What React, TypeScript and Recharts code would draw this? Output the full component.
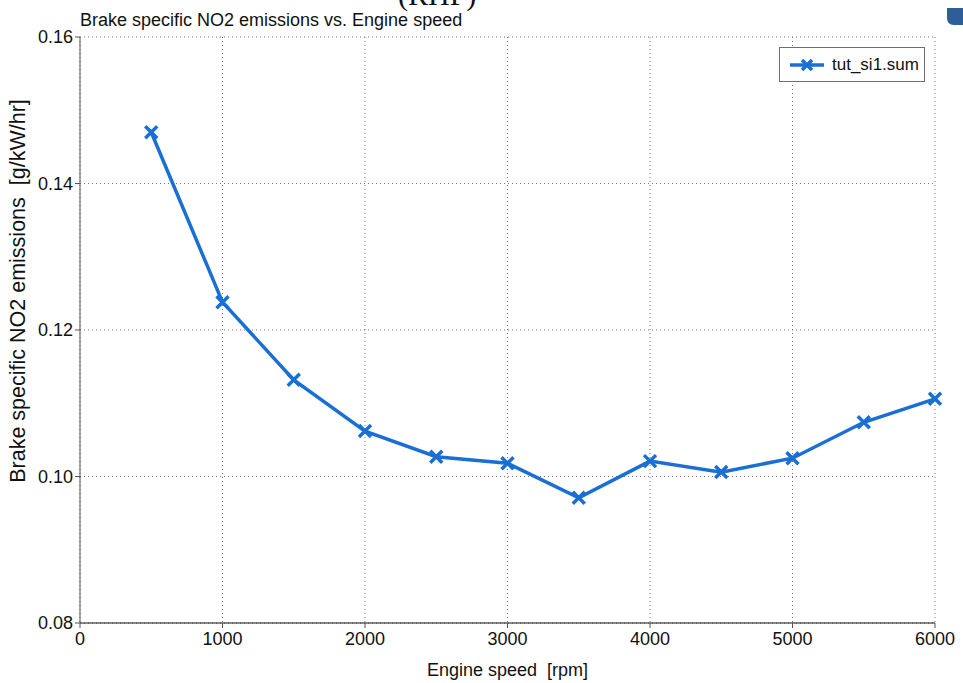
import React from 'react';
import {
  LineChart,
  Line,
  XAxis,
  YAxis,
  CartesianGrid,
} from 'recharts';

// Engine speed sweep [rpm] and brake specific NO2 [g/kW/hr]
const engineSpeed = [500, 1000, 1500, 2000, 2500, 3000, 3500, 4000, 4500, 5000, 5500, 6000];
const no2Emissions = [0.147, 0.1238, 0.1132, 0.1062, 0.1027, 0.1018, 0.0971, 0.1021, 0.1006, 0.1025, 0.1074, 0.1106];
const speedTicks = [0, 1000, 2000, 3000, 4000, 5000, 6000];
const emissionTicks = [0.08, 0.1, 0.12, 0.14, 0.16];
const seriesName = 'tut_si1.sum';

const BLUE = '#1a6fd4';
const FONT = '"Liberation Sans", Arial, Helvetica, sans-serif';

const data = engineSpeed.map((rpm, i) => ({ rpm, value: no2Emissions[i] }));

const CrossDot = (props: any) => {
  const { cx, cy, index } = props;
  if (cx == null || cy == null) return null;
  const s = 6;
  return (
    <path
      key={`x-${index}`}
      d={`M${cx - s},${cy - s}L${cx + s},${cy + s}M${cx - s},${cy + s}L${cx + s},${cy - s}`}
      stroke={BLUE}
      strokeWidth={3.5}
      fill="none"
    />
  );
};

// legend box sits over the plot, top right
const LegendBox = () => (
  <div
    style={{
      position: 'absolute',
      left: 779,
      top: 47,
      width: 146,
      height: 35,
      boxSizing: 'border-box',
      border: '1px solid #6e6e6e',
      background: '#fff',
      display: 'flex',
      alignItems: 'center',
      fontFamily: FONT,
      fontSize: 17,
      color: '#111',
    }}
  >
    <svg width={50} height={20} style={{ marginLeft: 8 }}>
      <line x1={2} y1={10} x2={36} y2={10} stroke={BLUE} strokeWidth={3.5} />
      <path d="M14,5L24,15M14,15L24,5" stroke={BLUE} strokeWidth={3.5} />
    </svg>
    <span style={{ marginLeft: -6 }}>{seriesName}</span>
  </div>
);

export default function App() {
  return (
    <div style={{ position: 'absolute', left: 0, top: 0, width: 963, height: 683, background: '#fff' }}>
      <svg width={963} height={40} style={{ position: 'absolute', left: 0, top: 0 }}>
        <text x={398} y={5} fontFamily="Liberation Serif, serif" fontSize={30} fill="#111">
          (RHP)
        </text>
        <path d="M947,8H963V25H954Q947,25 947,18Z" fill="#2f5d98" />
        <text x={80} y={26} fontFamily={FONT} fontSize={18} fill="#111">
          Brake specific NO2 emissions vs. Engine speed
        </text>
      </svg>
      <LineChart
        width={963}
        height={683}
        data={data}
        margin={{ top: 37, right: 28, left: 0, bottom: 0 }}
        style={{ fontFamily: FONT }}
      >
        <CartesianGrid stroke="#777" strokeDasharray="1 3" />
        <XAxis
          dataKey="rpm"
          type="number"
          domain={[0, 6000]}
          ticks={speedTicks}
          height={60}
          tickSize={5}
          tick={{ fontSize: 18, fill: '#111', dy: 2 }}
          axisLine={{ stroke: '#111' }}
          tickLine={{ stroke: '#555' }}
          label={{
            value: 'Engine speed\u00a0\u00a0[rpm]',
            position: 'insideBottom',
            offset: 7,
            fontSize: 18,
            fill: '#111',
          }}
        />
        <XAxis xAxisId="top" orientation="top" type="number" domain={[0, 6000]} height={0} tick={false} tickLine={false} axisLine={{ stroke: '#111' }} />
        <YAxis
          type="number"
          domain={[0.08, 0.16]}
          ticks={emissionTicks}
          width={80}
          tickSize={5}
          tickFormatter={(v: number) => v.toFixed(2)}
          tick={{ fontSize: 18, fill: '#111' }}
          axisLine={{ stroke: '#555' }}
          tickLine={{ stroke: '#555' }}
          label={{
            value: 'Brake specific NO2 emissions\u00a0\u00a0[g/kW/hr]',
            angle: -90,
            position: 'insideLeft',
            offset: 17,
            dy: -39,
            style: { textAnchor: 'middle' },
            fontSize: 21.5,
            fill: '#111',
          }}
        />
        <YAxis yAxisId="right" orientation="right" width={0} tick={false} tickLine={false} axisLine={{ stroke: '#111' }} />
        <Line
          type="linear"
          dataKey="value"
          name={seriesName}
          stroke={BLUE}
          strokeWidth={3.5}
          dot={CrossDot}
          activeDot={false}
          isAnimationActive={false}
        />
      </LineChart>
      <LegendBox />
    </div>
  );
}
